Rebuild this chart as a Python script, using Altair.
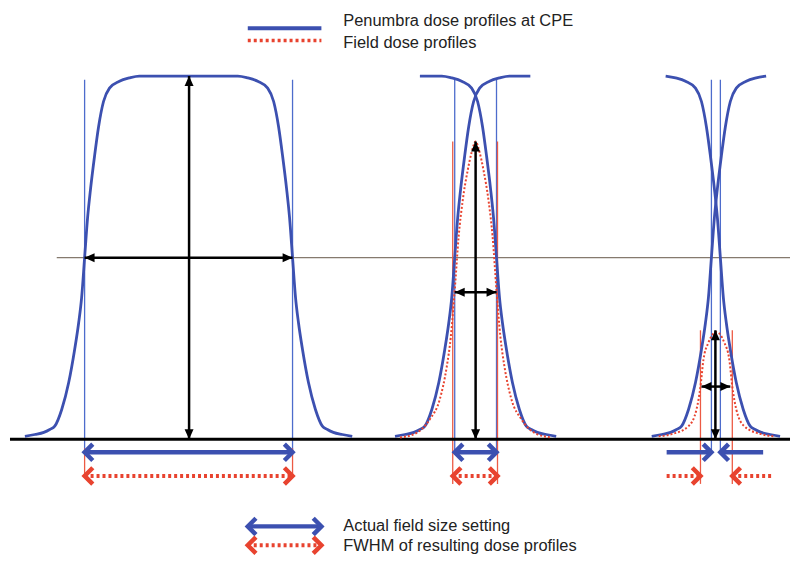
import altair as alt
import pandas as pd

# ---------------- data ----------------
# Common penumbra shape: distance from the 50 % point (towards field centre) and relative dose (%)
pen_off = [-60, -50, -41, -35, -30, -23, -16, -10, -6, -3, 0, 3, 6, 10, 14, 19, 25, 35, 45, 55]
pen_dose = [0.8, 1.3, 1.9, 2.7, 3.6, 8.2, 15.6, 24.7, 32, 39, 50, 61, 69, 78, 86, 93, 96.7, 98.6, 99.5, 100]

# Penumbra curves: id, position of 50 % point, direction (+1 rising, -1 falling), plateau end
pen_curve = ["large", "large", "mid_A", "mid_D", "small_A", "small_D"]
pen_half_x = [83, 292, 455, 497, 713, 722]
pen_dir = [1, -1, 1, -1, 1, -1]
pen_plateau_x = [None, None, 531, 420, None, None]

# Field dose profiles (red dotted)
mid_field_x = [400, 415, 430, 440, 447, 451, 455, 459, 463, 468, 472, 476,
               480, 484, 489, 493, 497, 501, 505, 512, 522, 537, 552]
mid_field_dose = [0.5, 1.5, 5.5, 11, 20, 28, 41, 56, 65.7, 74, 79, 82,
                  79, 74, 65.7, 56, 41, 28, 20, 11, 5.5, 1.5, 0.5]
small_field_x = [660, 673, 690, 698, 702, 705, 710, 718, 726, 731, 734, 738, 746, 763, 776]
small_field_dose = [0.8, 1.4, 3.6, 8.2, 14.5, 21.9, 26.6, 29.5, 26.6, 21.9, 14.5, 8.2, 3.6, 1.4, 0.8]

# Field edges (actual field size setting) and FWHM edges
blue_edge_x = [83, 292, 455, 497, 713, 722]
blue_edge_top = 99
blue_edge_bottom = -3.6
red_fwhm_x = [83, 292, 453, 498, 702, 734]
red_fwhm_top = [-2.5, -2.5, 82, 82, 30, 30]
red_fwhm_bottom = [-10.4, -10.4, -12.3, -12.3, -12.3, -12.3]

# Black measurement arrows
black_v = [(188, 0, 100), (476, 0, 82), (717, 0, 30)]          # x, bottom, top
black_h = [(50, 83, 292), (40.5, 455, 497), (14.5, 703, 732)]  # dose level, left, right

# Blue (field size) and red dotted (FWHM) arrows
blue_double = [(-3.6, 83, 292), (-3.6, 455, 497), (-24.0, 247, 321)]
blue_single = [(-3.6, 668, 713), (-3.6, 765, 722)]     # level, tail, tip
red_double = [(-10.1, 83, 292), (-10.1, 453, 498), (-29.2, 247, 321)]
red_single = [(-10.1, 668, 702), (-10.1, 775, 734)]

half_line = (50, 55, 792)
base_line = (0, 8, 792)

legend_lines = [(113.2, 247, 321, "pen"), (109.8, 247, 321, "field")]
legend_text_x = 343
legend_texts = ["Penumbra dose profiles at CPE", "Field dose profiles",
                "Actual field size setting", "FWHM of resulting dose profiles"]
legend_text_y = [113.8, 107.6, -25.3, -30.7]

# ---------------- build tables ----------------
X_DOM = [8, 792]
Y_DOM = [-31.23, 118.36]

BLUE = "#3c50b0"
BLUE_THIN = "#4d6ccc"
RED = "#e8432f"
RED_THIN = "#ec5a44"


def X(f="x"):
    return alt.X(f, type="quantitative", scale=alt.Scale(domain=X_DOM, nice=False, zero=False), axis=None)


def Y(f="y"):
    return alt.Y(f, type="quantitative", scale=alt.Scale(domain=Y_DOM, nice=False, zero=False), axis=None)


pen_rows = []
for cid, x50, d, px in zip(pen_curve, pen_half_x, pen_dir, pen_plateau_x):
    for o, dose in zip(pen_off, pen_dose):
        pen_rows.append({"curve": cid + str(x50), "x": x50 + d * o, "y": dose})
    if px is not None:
        pen_rows.append({"curve": cid + str(x50), "x": px, "y": 100})
# the large field is a single curve
for r in pen_rows:
    if r["curve"].startswith("large"):
        r["curve"] = "large"
pen_df = pd.DataFrame(pen_rows)

field_df = pd.DataFrame(
    [{"curve": "mid", "x": a, "y": b} for a, b in zip(mid_field_x, mid_field_dose)]
    + [{"curve": "small", "x": a, "y": b} for a, b in zip(small_field_x, small_field_dose)]
)


def rules(rows):
    return pd.DataFrame(rows, columns=["x", "x2", "y", "y2"])


blue_edges_df = rules([(x, x, blue_edge_bottom, blue_edge_top) for x in blue_edge_x])
red_edges_df = rules([(x, x, b, t) for x, t, b in zip(red_fwhm_x, red_fwhm_top, red_fwhm_bottom)])
gray_df = rules([(half_line[1], half_line[2], half_line[0], half_line[0])])
base_df = rules([(base_line[1], base_line[2], base_line[0], base_line[0])])

UP = "M0,0L-0.9,2L0.9,2Z"
DOWN = "M0,0L-0.9,-2L0.9,-2Z"
LEFT = "M0,0L2,-0.9L2,0.9Z"
RIGHT = "M0,0L-2,-0.9L-2,0.9Z"
CH_LEFT = "M1.5,-1.5L0,0L1.5,1.5"
CH_RIGHT = "M-1.5,-1.5L0,0L-1.5,1.5"

black_shaft_df = rules([(x, x, b, t) for x, b, t in black_v] + [(l, r, y, y) for y, l, r in black_h])
black_head_df = pd.DataFrame(
    [{"x": x, "y": t, "s": UP} for x, b, t in black_v]
    + [{"x": x, "y": b, "s": DOWN} for x, b, t in black_v]
    + [{"x": l, "y": y, "s": LEFT} for y, l, r in black_h]
    + [{"x": r, "y": y, "s": RIGHT} for y, l, r in black_h]
)


def arrow_tables(doubles, singles):
    shafts = rules([(l, r, y, y) for y, l, r in doubles] + [(min(a, b), max(a, b), y, y) for y, a, b in singles])
    heads = pd.DataFrame(
        [{"x": l, "y": y, "s": CH_LEFT} for y, l, r in doubles]
        + [{"x": r, "y": y, "s": CH_RIGHT} for y, l, r in doubles]
        + [{"x": tip, "y": y, "s": (CH_RIGHT if tip > tail else CH_LEFT)} for y, tail, tip in singles]
    )
    return shafts, heads


blue_shaft_df, blue_head_df = arrow_tables(blue_double, blue_single)
red_shaft_df, red_head_df = arrow_tables(red_double, red_single)

leg_pen_df = rules([(l, r, y, y) for y, l, r, k in legend_lines if k == "pen"])
leg_field_df = rules([(l, r, y, y) for y, l, r, k in legend_lines if k == "field"])
text_df = pd.DataFrame({"x": [legend_text_x] * len(legend_texts), "y": legend_text_y, "t": legend_texts})

# ---------------- layers ----------------
def rule_layer(df, **kw):
    return alt.Chart(df).mark_rule(**kw).encode(x=X(), x2=alt.X2("x2"), y=Y(), y2=alt.Y2("y2"))


layers = [
    rule_layer(gray_df, color="#857a6e", strokeWidth=1.3),
    rule_layer(blue_edges_df, color=BLUE_THIN, strokeWidth=1.3),
    rule_layer(red_edges_df, color=RED_THIN, strokeWidth=1.3),
    rule_layer(base_df, color="#000000", strokeWidth=3),
    alt.Chart(pen_df).mark_line(color=BLUE, strokeWidth=2.8, interpolate="monotone").encode(
        x=X(), y=Y(), detail="curve:N", order="x:Q"),
    alt.Chart(field_df).mark_line(color=RED, strokeWidth=2, strokeDash=[2, 2], interpolate="monotone").encode(
        x=X(), y=Y(), detail="curve:N", order="x:Q"),
    rule_layer(black_shaft_df, color="#000000", strokeWidth=2.5),
    alt.Chart(black_head_df).mark_point(filled=True, color="#000000", size=100, opacity=1).encode(
        x=X(), y=Y(), shape=alt.Shape("s:N", scale=None)),
    rule_layer(blue_shaft_df, color=BLUE, strokeWidth=4.5),
    alt.Chart(blue_head_df).mark_point(filled=False, color=BLUE, size=120, strokeWidth=4.5, opacity=1).encode(
        x=X(), y=Y(), shape=alt.Shape("s:N", scale=None)),
    rule_layer(red_shaft_df, color=RED, strokeWidth=4, strokeDash=[3, 3]),
    alt.Chart(red_head_df).mark_point(filled=False, color=RED, size=120, strokeWidth=4.5, opacity=1).encode(
        x=X(), y=Y(), shape=alt.Shape("s:N", scale=None)),
    rule_layer(leg_pen_df, color=BLUE, strokeWidth=4),
    rule_layer(leg_field_df, color=RED, strokeWidth=3.5, strokeDash=[3, 3]),
    alt.Chart(text_df).mark_text(align="left", baseline="alphabetic", font="Liberation Sans",
                                 fontSize=16.5, color="#222222").encode(x=X(), y=Y(), text="t:N"),
]

chart = alt.layer(*layers).properties(
    width=784, height=546, padding=0, background="#ffffff"
).configure_view(stroke=None)

chart.save("out.html", embed_options={"renderer": "svg", "actions": False})
